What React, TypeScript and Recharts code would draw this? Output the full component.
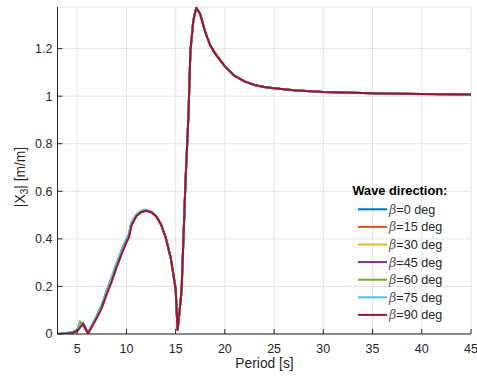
import React from 'react';
import { LineChart, Line, XAxis, YAxis, CartesianGrid } from 'recharts';

const FONT = '"Liberation Sans", Arial, Helvetica, sans-serif';
const AX = '#262626';

// Period [s] — low-period region (series differ slightly here)
const periodsLow = [3, 3.5, 4, 4.5, 5, 5.3, 5.6, 6.1, 6.5, 7, 7.5, 8, 8.5, 9, 9.5, 10, 10.25, 10.5, 11, 11.5, 12, 12.5, 13, 13.5, 14, 14.5, 15, 15.2];
// Period [s] — resonance and long-period region (series coincide)
const periodsTail = [15.6, 16, 16.3, 16.5, 16.8, 17.1, 17.5, 18, 18.5, 19, 20, 21, 22, 23, 24, 25, 27, 30, 33, 36, 40, 45];

const beta0Low = [0, 0.002, 0.005, 0.006, 0.015, 0.032, 0.044, 0.003, 0.037, 0.076, 0.12, 0.18, 0.235, 0.295, 0.35, 0.398, 0.418, 0.466, 0.501, 0.516, 0.52, 0.514, 0.497, 0.462, 0.405, 0.32, 0.19, 0.015];
const beta15Low = [0, 0.001, 0.003, 0.005, 0.013, 0.03, 0.043, 0.002, 0.033, 0.07, 0.112, 0.17, 0.222, 0.282, 0.337, 0.387, 0.407, 0.457, 0.496, 0.513, 0.518, 0.512, 0.496, 0.462, 0.405, 0.32, 0.19, 0.015];
const beta30Low = [0, 0.001, 0.003, 0.005, 0.014, 0.034, 0.044, 0.002, 0.034, 0.072, 0.115, 0.174, 0.228, 0.287, 0.342, 0.391, 0.411, 0.46, 0.498, 0.514, 0.519, 0.513, 0.496, 0.462, 0.405, 0.32, 0.19, 0.015];
const beta45Low = [0, 0.001, 0.003, 0.006, 0.016, 0.04, 0.045, 0.002, 0.035, 0.074, 0.117, 0.177, 0.231, 0.29, 0.345, 0.394, 0.414, 0.462, 0.499, 0.515, 0.519, 0.513, 0.497, 0.462, 0.405, 0.32, 0.19, 0.015];
const beta60Low = [0, 0.002, 0.004, 0.008, 0.02, 0.052, 0.04, 0.003, 0.038, 0.078, 0.122, 0.183, 0.238, 0.298, 0.353, 0.4, 0.42, 0.468, 0.502, 0.518, 0.522, 0.515, 0.497, 0.462, 0.405, 0.32, 0.19, 0.015];
const beta75Low = [0, 0.002, 0.004, 0.007, 0.017, 0.04, 0.034, 0.002, 0.037, 0.077, 0.121, 0.182, 0.236, 0.296, 0.352, 0.399, 0.419, 0.467, 0.501, 0.517, 0.521, 0.514, 0.497, 0.462, 0.405, 0.32, 0.19, 0.015];
const beta90Low = [0, 0.001, 0.002, 0.004, 0.012, 0.028, 0.042, 0.002, 0.03, 0.068, 0.11, 0.168, 0.22, 0.28, 0.335, 0.385, 0.405, 0.455, 0.495, 0.512, 0.518, 0.512, 0.496, 0.462, 0.405, 0.32, 0.19, 0.015];

const tailValues = [0.18, 0.64, 0.92, 1.19, 1.32, 1.372, 1.345, 1.27, 1.215, 1.18, 1.125, 1.085, 1.062, 1.047, 1.039, 1.033, 1.025, 1.018, 1.014, 1.011, 1.009, 1.007];

const directions = ['0', '15', '30', '45', '60', '75', '90'];
const colors = ['#0072BD', '#D95319', '#EDB120', '#7E2F8E', '#77AC30', '#4DBEEE', '#A2142F'];
const lowSeries = [beta0Low, beta15Low, beta30Low, beta45Low, beta60Low, beta75Low, beta90Low];

const xTicks = [5, 10, 15, 20, 25, 30, 35, 40, 45];
const yTicks = [0, 0.2, 0.4, 0.6, 0.8, 1, 1.2];

const periods = [...periodsLow, ...periodsTail];
const data = periods.map((p, i) => {
  const row: Record<string, number> = { period: p };
  lowSeries.forEach((s, k) => {
    row['s' + k] = i < periodsLow.length ? s[i] : tailValues[i - periodsLow.length];
  });
  return row;
});

const fmt = (v: number) => String(Math.round(v * 10) / 10);

export default function App() {
  const legendX = 358;
  const legendY0 = 209.3;
  const step = 17.6;
  return (
    <div style={{ position: 'absolute', left: 0, top: 0, width: 477, height: 378, background: '#fff' }}>
      <LineChart
        width={477}
        height={378}
        data={data}
        margin={{ top: 7, right: 6, bottom: 14, left: 10 }}
      >
        <CartesianGrid stroke="#e4e4e4" strokeWidth={1} />
        <XAxis
          dataKey="period"
          type="number"
          domain={[3, 45]}
          ticks={xTicks}
          interval={0}
          allowDataOverflow
          height={30}
          tickSize={-5}
          tickMargin={15}
          axisLine={{ stroke: AX }}
          tickLine={{ stroke: AX }}
          tick={{ fill: AX, fontSize: 12.5, fontFamily: FONT }}
        />
        <XAxis
          xAxisId="top"
          orientation="top"
          dataKey="period"
          type="number"
          domain={[3, 45]}
          ticks={xTicks}
          interval={0}
          allowDataOverflow
          height={0}
          tickSize={-5}
          axisLine={{ stroke: AX }}
          tickLine={{ stroke: AX }}
          tick={() => <g />}
        />
        <YAxis
          type="number"
          domain={[0, 1.375]}
          ticks={yTicks}
          interval={0}
          allowDataOverflow
          width={47.5}
          tickSize={-5}
          tickMargin={10}
          tickFormatter={fmt}
          axisLine={{ stroke: AX }}
          tickLine={{ stroke: AX }}
          tick={{ fill: AX, fontSize: 12.5, fontFamily: FONT }}
        />
        <YAxis
          yAxisId="right"
          orientation="right"
          type="number"
          domain={[0, 1.375]}
          ticks={yTicks}
          interval={0}
          allowDataOverflow
          width={0}
          tickSize={-5}
          axisLine={{ stroke: AX }}
          tickLine={{ stroke: AX }}
          tick={() => <g />}
        />
        {directions.map((d, k) => (
          <Line
            key={d}
            type="linear"
            dataKey={'s' + k}
            stroke={colors[k]}
            strokeWidth={2}
            dot={false}
            activeDot={false}
            isAnimationActive={false}
          />
        ))}
      </LineChart>
      <svg
        width={477}
        height={378}
        style={{ position: 'absolute', left: 0, top: 0, pointerEvents: 'none' }}
        fontFamily={FONT}
      >
        <text x={264.5} y={367.5} textAnchor="middle" fontSize={13.8} fill={AX}>
          Period [s]
        </text>
        <text transform="translate(25,177) rotate(-90)" textAnchor="middle" fontSize={13.8} fill={AX}>
          |X<tspan fontSize={10} dy={3}>3</tspan>
          <tspan dy={-3}>| [m/m]</tspan>
        </text>
        <text x={352.5} y={194.5} fontSize={12.8} fontWeight="bold" fill="#000">
          Wave direction:
        </text>
        {directions.map((d, k) => {
          const cy = legendY0 + k * step;
          return (
            <g key={d}>
              <line x1={legendX} x2={legendX + 29} y1={cy} y2={cy} stroke={colors[k]} strokeWidth={2} />
              <text x={legendX + 31} y={cy + 4.5} fontSize={12.6} fill={AX}>
                <tspan fontStyle="italic" fontFamily='"DejaVu Serif", serif' fill="#555">β</tspan>
                <tspan>={d} deg</tspan>
              </text>
            </g>
          );
        })}
      </svg>
    </div>
  );
}
